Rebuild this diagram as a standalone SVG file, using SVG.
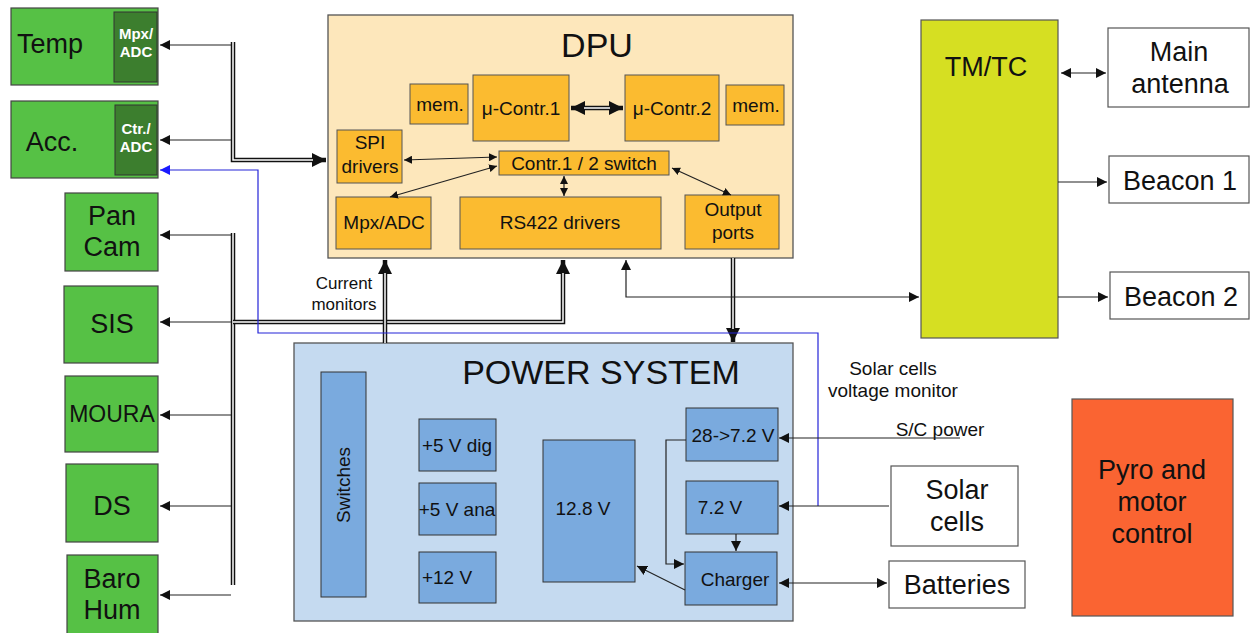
<svg xmlns="http://www.w3.org/2000/svg" width="1250" height="633" viewBox="0 0 1250 633">
<style>
text{font-family:"Liberation Sans",Arial,sans-serif;fill:#111;text-anchor:middle}
.g{fill:#56c145;stroke:#444;stroke-width:1.2}
.dg{fill:#3c7e2e;stroke:#333;stroke-width:1}
.wt{fill:#fff;font-weight:bold;font-size:15px}
.dpu{fill:#fde7bb;stroke:#555;stroke-width:1.3}
.o{fill:#fbbb30;stroke:#555;stroke-width:1}
.ps{fill:#c5daf0;stroke:#555;stroke-width:1.3}
.b{fill:#7aaade;stroke:#333;stroke-width:1}
.w{fill:#fff;stroke:#555;stroke-width:1.2}
.t19{font-size:19px}
.t27{font-size:27px}
.ln{fill:none;stroke:#222;stroke-width:1.2}
.outer{fill:none;stroke:#111;stroke-width:4.5;stroke-linejoin:miter}
.inner{fill:none;stroke:#fff;stroke-width:1.5}
.blue{fill:none;stroke:#2424d8;stroke-width:1.2}
</style>
<defs>
<marker id="a" viewBox="0 0 10 10" refX="10" refY="5" markerWidth="10" markerHeight="10" markerUnits="userSpaceOnUse" orient="auto-start-reverse"><path d="M0,0 L10,5 L0,10 z" fill="#111"/></marker>
<marker id="s" viewBox="0 0 10 10" refX="10" refY="5" markerWidth="8" markerHeight="8" markerUnits="userSpaceOnUse" orient="auto-start-reverse"><path d="M0,0 L10,5 L0,10 z" fill="#111"/></marker>
<marker id="ab" viewBox="0 0 10 10" refX="10" refY="5" markerWidth="10" markerHeight="10" markerUnits="userSpaceOnUse" orient="auto-start-reverse"><path d="M0,0 L10,5 L0,10 z" fill="#1a1aff"/></marker>
<marker id="A" viewBox="0 0 10 10" refX="10" refY="5" markerWidth="14" markerHeight="14" markerUnits="userSpaceOnUse" orient="auto-start-reverse"><path d="M0,0 L10,5 L0,10 z" fill="#111"/></marker>
</defs>

<g id="temp"><rect class="g" x="11" y="8" width="147" height="77"/><rect class="dg" x="114" y="12" width="43" height="70"/><text class="t27" x="50" y="53">Temp</text><text class="wt" x="136" y="39">Mpx/</text><text class="wt" x="136" y="57">ADC</text></g>
<g id="acc"><rect class="g" x="11" y="101" width="147" height="77"/><rect class="dg" x="115" y="105" width="42" height="70"/><text class="t27" x="52" y="151">Acc.</text><text class="wt" x="136" y="134">Ctr./</text><text class="wt" x="136" y="152">ADC</text></g>
<g id="pancam"><rect class="g" x="65" y="193" width="93" height="78"/><text class="t27" x="112" y="225">Pan</text><text class="t27" x="112" y="256">Cam</text></g>
<g id="sis"><rect class="g" x="64" y="286" width="94" height="77"/><text class="t27" x="112" y="333">SIS</text></g>
<g id="moura"><rect class="g" x="65" y="376" width="93" height="76"/><text x="112" y="422" font-size="23">MOURA</text></g>
<g id="ds"><rect class="g" x="66" y="464" width="92" height="78"/><text class="t27" x="112" y="515">DS</text></g>
<g id="barohum"><rect class="g" x="67" y="555" width="91" height="80"/><text class="t27" x="112" y="588">Baro</text><text class="t27" x="112" y="619">Hum</text></g>

<g id="dpu"><rect class="dpu" x="328" y="15" width="465" height="243"/><text x="597" y="57" font-size="34">DPU</text></g>
<g id="mem1"><rect class="o" x="410" y="84" width="58" height="40"/><text class="t19" x="440" y="111">mem.</text></g>
<g id="uc1"><rect class="o" x="473" y="75" width="96" height="66"/><text class="t19" x="521" y="115">μ-Contr.1</text></g>
<g id="uc2"><rect class="o" x="625" y="75" width="94" height="66"/><text class="t19" x="672" y="115">μ-Contr.2</text></g>
<g id="mem2"><rect class="o" x="726" y="85" width="58" height="40"/><text class="t19" x="756" y="112">mem.</text></g>
<g id="spi"><rect class="o" x="337" y="130" width="65" height="53"/><text class="t19" x="370" y="149">SPI</text><text class="t19" x="370" y="173">drivers</text></g>
<g id="switch"><rect class="o" x="499" y="151" width="170" height="24"/><text class="t19" x="584" y="170">Contr.1 / 2 switch</text></g>
<g id="mpxadc"><rect class="o" x="336" y="197" width="95" height="52"/><text class="t19" x="384" y="229">Mpx/ADC</text></g>
<g id="rs422"><rect class="o" x="460" y="197" width="201" height="52"/><text class="t19" x="560" y="229">RS422 drivers</text></g>
<g id="outports"><rect class="o" x="685" y="195" width="94" height="54"/><text class="t19" x="733" y="216">Output</text><text class="t19" x="733" y="239">ports</text></g>

<g id="power"><rect class="ps" x="294" y="343" width="499" height="278"/><text x="601" y="384" font-size="34">POWER SYSTEM</text></g>
<g id="switches"><rect class="b" x="321" y="372" width="45" height="225"/><text class="t19" transform="translate(350,485) rotate(-90)">Switches</text></g>
<g id="v5dig"><rect class="b" x="419" y="419" width="77" height="52"/><text class="t19" x="457" y="452">+5 V dig</text></g>
<g id="v5ana"><rect class="b" x="419" y="483" width="77" height="52"/><text class="t19" x="457" y="516">+5 V ana</text></g>
<g id="v12"><rect class="b" x="419" y="552" width="77" height="51"/><text class="t19" x="447" y="584">+12 V</text></g>
<g id="v128"><rect class="b" x="543" y="440" width="92" height="142"/><text class="t19" x="583" y="515">12.8 V</text></g>
<g id="v28"><rect class="b" x="686" y="408" width="92" height="53"/><text class="t19" x="733" y="442">28-&gt;7.2 V</text></g>
<g id="v72"><rect class="b" x="686" y="481" width="92" height="53"/><text class="t19" x="720" y="514">7.2 V</text></g>
<g id="charger"><rect class="b" x="685" y="552" width="92" height="53"/><text class="t19" x="735" y="586">Charger</text></g>

<g id="tmtc"><rect x="921" y="20" width="137" height="318" fill="#d6df22" stroke="#555" stroke-width="1.2"/><text x="986" y="76" font-size="27">TM/TC</text></g>
<g id="mainant"><rect class="w" x="1108" y="28" width="141" height="79"/><text class="t27" x="1179" y="61">Main</text><text class="t27" x="1180" y="93">antenna</text></g>
<g id="beacon1"><rect class="w" x="1109" y="156" width="140" height="47"/><text class="t27" x="1180" y="190">Beacon 1</text></g>
<g id="beacon2"><rect class="w" x="1110" y="272" width="139" height="47"/><text class="t27" x="1181" y="306">Beacon 2</text></g>
<g id="pyro"><rect x="1072" y="399" width="161" height="217" fill="#fa6432" stroke="#555" stroke-width="1.2"/><text class="t27" x="1152" y="479">Pyro and</text><text class="t27" x="1152" y="511">motor</text><text class="t27" x="1152" y="543">control</text></g>
<g id="solar"><rect class="w" x="891" y="466" width="127" height="80"/><text class="t27" x="957" y="499">Solar</text><text class="t27" x="957" y="531">cells</text></g>
<g id="batteries"><rect class="w" x="889" y="561" width="136" height="47"/><text class="t27" x="957" y="594">Batteries</text></g>

<g id="labels">
<text x="344" y="289" font-size="17">Current</text><text x="344" y="310" font-size="17">monitors</text>
<text class="t19" x="893" y="375">Solar cells</text><text class="t19" x="893" y="397">voltage monitor</text>
<text class="t19" x="940" y="436">S/C power</text>
</g>

<g id="connectors">
<path class="outer" d="M233,42 V160 H326" marker-end="url(#A)"/>
<path class="inner" d="M233,42 V160 H313"/>
<path class="ln" d="M231,45 H160" marker-end="url(#a)"/>
<path class="ln" d="M231,140 H160" marker-end="url(#a)"/>
<path class="outer" d="M233,233 V585"/>
<path class="inner" d="M233,233 V585"/>
<path class="outer" d="M233,322 H563 V260" marker-end="url(#A)"/>
<path class="inner" d="M233,322 H563 V273"/>
<path class="ln" d="M231,235 H160" marker-end="url(#a)"/>
<path class="ln" d="M231,322 H160" marker-end="url(#a)"/>
<path class="ln" d="M231,415 H160" marker-end="url(#a)"/>
<path class="ln" d="M231,506 H160" marker-end="url(#a)"/>
<path class="ln" d="M231,595 H160" marker-end="url(#a)"/>
<path class="outer" d="M385,343 V260" marker-end="url(#A)"/>
<path class="inner" d="M385,343 V273"/>
<path class="outer" d="M733,258 V342" marker-end="url(#A)"/>
<path class="inner" d="M733,258 V329"/>
<path class="ln" d="M626,260 V297 H919" marker-start="url(#a)" marker-end="url(#a)"/>
<path class="blue" d="M160,170 H258 V333 H818 V506" marker-start="url(#ab)"/>
<path class="outer" d="M571,108 H623" marker-start="url(#A)" marker-end="url(#A)"/>
<path class="inner" d="M584,108 H610"/>
<path class="ln" d="M404,160 L497,157" marker-start="url(#s)" marker-end="url(#s)"/>
<path class="ln" d="M497,166 L390,197" marker-start="url(#s)" marker-end="url(#s)"/>
<path class="ln" d="M564,176 V196" marker-start="url(#s)" marker-end="url(#s)"/>
<path class="ln" d="M672,168 L731,195" marker-start="url(#s)" marker-end="url(#s)"/>
<path class="ln" d="M960,438 H779" marker-end="url(#a)"/>
<path class="ln" d="M889,506 H779" marker-end="url(#a)"/>
<path class="ln" d="M779,583 H887" marker-start="url(#a)" marker-end="url(#a)"/>
<path class="ln" d="M686,440 H666 V564 H684" marker-end="url(#a)"/>
<path class="ln" d="M736,534 V551" marker-end="url(#a)"/>
<path class="ln" d="M685,590 L637,566" marker-end="url(#a)"/>
<path class="ln" d="M1061,73 H1106" marker-start="url(#a)" marker-end="url(#a)"/>
<path class="ln" d="M1058,182 H1107" marker-end="url(#a)"/>
<path class="ln" d="M1058,297 H1108" marker-end="url(#a)"/>
</g>
</svg>
